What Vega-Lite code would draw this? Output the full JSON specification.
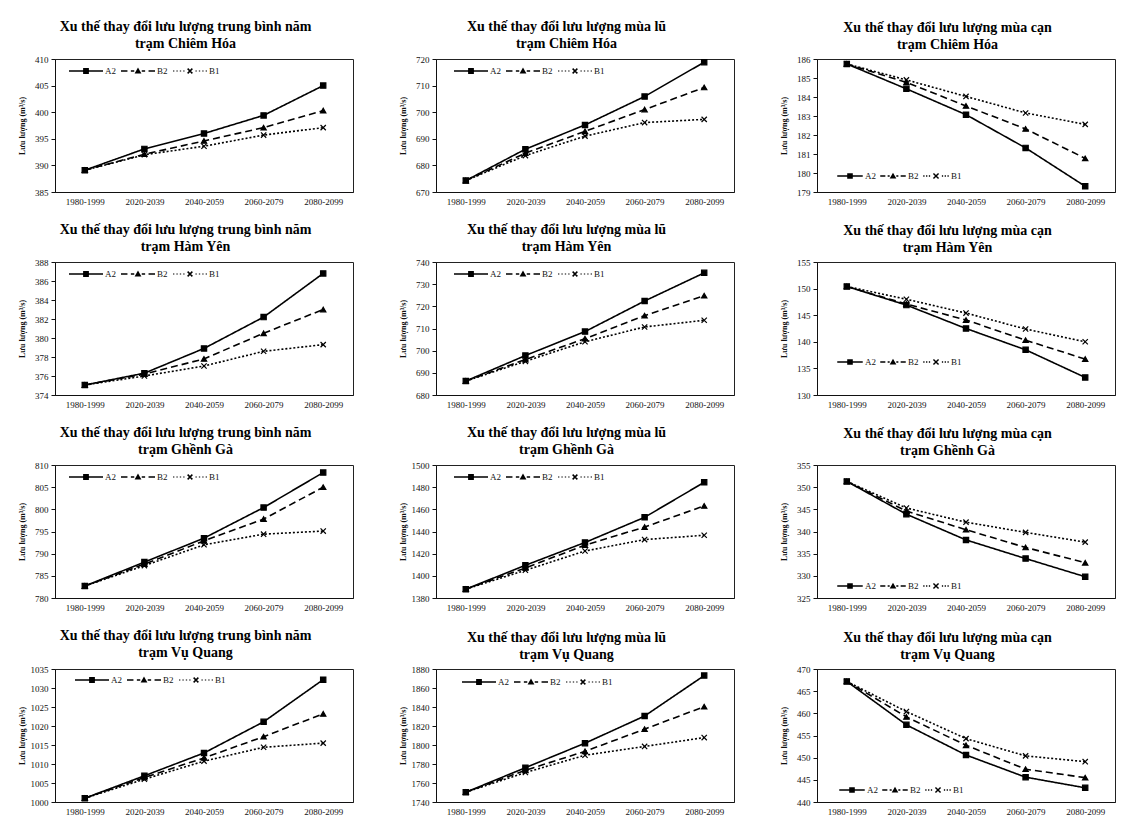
{
"$schema": "https://vega.github.io/schema/vega-lite/v6.json",
"padding": {"left": 17, "top": 19, "right": 4, "bottom": 2},
"background": "white",
"columns": 3,
"spacing": {"column": 44, "row": 15},
"datasets": {"d": [
{"s":"CH","t":"TB","p":"1980-1999","k":"A2","v":389.1},{"s":"CH","t":"TB","p":"2020-2039","k":"A2","v":393.1},{"s":"CH","t":"TB","p":"2040-2059","k":"A2","v":396.0},{"s":"CH","t":"TB","p":"2060-2079","k":"A2","v":399.4},{"s":"CH","t":"TB","p":"2080-2099","k":"A2","v":405.0},
{"s":"CH","t":"TB","p":"1980-1999","k":"B2","v":389.1},{"s":"CH","t":"TB","p":"2020-2039","k":"B2","v":392.1},{"s":"CH","t":"TB","p":"2040-2059","k":"B2","v":394.6},{"s":"CH","t":"TB","p":"2060-2079","k":"B2","v":397.1},{"s":"CH","t":"TB","p":"2080-2099","k":"B2","v":400.3},
{"s":"CH","t":"TB","p":"1980-1999","k":"B1","v":389.1},{"s":"CH","t":"TB","p":"2020-2039","k":"B1","v":392.0},{"s":"CH","t":"TB","p":"2040-2059","k":"B1","v":393.6},{"s":"CH","t":"TB","p":"2060-2079","k":"B1","v":395.7},{"s":"CH","t":"TB","p":"2080-2099","k":"B1","v":397.1},
{"s":"CH","t":"LU","p":"1980-1999","k":"A2","v":674.3},{"s":"CH","t":"LU","p":"2020-2039","k":"A2","v":686.1},{"s":"CH","t":"LU","p":"2040-2059","k":"A2","v":695.2},{"s":"CH","t":"LU","p":"2060-2079","k":"A2","v":705.9},{"s":"CH","t":"LU","p":"2080-2099","k":"A2","v":718.8},
{"s":"CH","t":"LU","p":"1980-1999","k":"B2","v":674.3},{"s":"CH","t":"LU","p":"2020-2039","k":"B2","v":684.6},{"s":"CH","t":"LU","p":"2040-2059","k":"B2","v":692.8},{"s":"CH","t":"LU","p":"2060-2079","k":"B2","v":701.0},{"s":"CH","t":"LU","p":"2080-2099","k":"B2","v":709.3},
{"s":"CH","t":"LU","p":"1980-1999","k":"B1","v":674.3},{"s":"CH","t":"LU","p":"2020-2039","k":"B1","v":683.7},{"s":"CH","t":"LU","p":"2040-2059","k":"B1","v":691.0},{"s":"CH","t":"LU","p":"2060-2079","k":"B1","v":696.1},{"s":"CH","t":"LU","p":"2080-2099","k":"B1","v":697.3},
{"s":"CH","t":"CAN","p":"1980-1999","k":"A2","v":185.74},{"s":"CH","t":"CAN","p":"2020-2039","k":"A2","v":184.43},{"s":"CH","t":"CAN","p":"2040-2059","k":"A2","v":183.07},{"s":"CH","t":"CAN","p":"2060-2079","k":"A2","v":181.32},{"s":"CH","t":"CAN","p":"2080-2099","k":"A2","v":179.3},
{"s":"CH","t":"CAN","p":"1980-1999","k":"B2","v":185.74},{"s":"CH","t":"CAN","p":"2020-2039","k":"B2","v":184.77},{"s":"CH","t":"CAN","p":"2040-2059","k":"B2","v":183.53},{"s":"CH","t":"CAN","p":"2060-2079","k":"B2","v":182.32},{"s":"CH","t":"CAN","p":"2080-2099","k":"B2","v":180.77},
{"s":"CH","t":"CAN","p":"1980-1999","k":"B1","v":185.74},{"s":"CH","t":"CAN","p":"2020-2039","k":"B1","v":184.9},{"s":"CH","t":"CAN","p":"2040-2059","k":"B1","v":184.03},{"s":"CH","t":"CAN","p":"2060-2079","k":"B1","v":183.16},{"s":"CH","t":"CAN","p":"2080-2099","k":"B1","v":182.56},
{"s":"HY","t":"TB","p":"1980-1999","k":"A2","v":375.05},{"s":"HY","t":"TB","p":"2020-2039","k":"A2","v":376.3},{"s":"HY","t":"TB","p":"2040-2059","k":"A2","v":378.9},{"s":"HY","t":"TB","p":"2060-2079","k":"A2","v":382.2},{"s":"HY","t":"TB","p":"2080-2099","k":"A2","v":386.8},
{"s":"HY","t":"TB","p":"1980-1999","k":"B2","v":375.05},{"s":"HY","t":"TB","p":"2020-2039","k":"B2","v":376.2},{"s":"HY","t":"TB","p":"2040-2059","k":"B2","v":377.8},{"s":"HY","t":"TB","p":"2060-2079","k":"B2","v":380.5},{"s":"HY","t":"TB","p":"2080-2099","k":"B2","v":383.0},
{"s":"HY","t":"TB","p":"1980-1999","k":"B1","v":375.05},{"s":"HY","t":"TB","p":"2020-2039","k":"B1","v":376.0},{"s":"HY","t":"TB","p":"2040-2059","k":"B1","v":377.05},{"s":"HY","t":"TB","p":"2060-2079","k":"B1","v":378.6},{"s":"HY","t":"TB","p":"2080-2099","k":"B1","v":379.3},
{"s":"HY","t":"LU","p":"1980-1999","k":"A2","v":686.3},{"s":"HY","t":"LU","p":"2020-2039","k":"A2","v":697.8},{"s":"HY","t":"LU","p":"2040-2059","k":"A2","v":708.6},{"s":"HY","t":"LU","p":"2060-2079","k":"A2","v":722.4},{"s":"HY","t":"LU","p":"2080-2099","k":"A2","v":735.1},
{"s":"HY","t":"LU","p":"1980-1999","k":"B2","v":686.3},{"s":"HY","t":"LU","p":"2020-2039","k":"B2","v":696.0},{"s":"HY","t":"LU","p":"2040-2059","k":"B2","v":705.4},{"s":"HY","t":"LU","p":"2060-2079","k":"B2","v":715.8},{"s":"HY","t":"LU","p":"2080-2099","k":"B2","v":724.8},
{"s":"HY","t":"LU","p":"1980-1999","k":"B1","v":686.3},{"s":"HY","t":"LU","p":"2020-2039","k":"B1","v":695.2},{"s":"HY","t":"LU","p":"2040-2059","k":"B1","v":704.0},{"s":"HY","t":"LU","p":"2060-2079","k":"B1","v":710.7},{"s":"HY","t":"LU","p":"2080-2099","k":"B1","v":713.7},
{"s":"HY","t":"CAN","p":"1980-1999","k":"A2","v":150.4},{"s":"HY","t":"CAN","p":"2020-2039","k":"A2","v":146.9},{"s":"HY","t":"CAN","p":"2040-2059","k":"A2","v":142.5},{"s":"HY","t":"CAN","p":"2060-2079","k":"A2","v":138.5},{"s":"HY","t":"CAN","p":"2080-2099","k":"A2","v":133.3},
{"s":"HY","t":"CAN","p":"1980-1999","k":"B2","v":150.4},{"s":"HY","t":"CAN","p":"2020-2039","k":"B2","v":147.1},{"s":"HY","t":"CAN","p":"2040-2059","k":"B2","v":144.1},{"s":"HY","t":"CAN","p":"2060-2079","k":"B2","v":140.3},{"s":"HY","t":"CAN","p":"2080-2099","k":"B2","v":136.75},
{"s":"HY","t":"CAN","p":"1980-1999","k":"B1","v":150.4},{"s":"HY","t":"CAN","p":"2020-2039","k":"B1","v":148.0},{"s":"HY","t":"CAN","p":"2040-2059","k":"B1","v":145.4},{"s":"HY","t":"CAN","p":"2060-2079","k":"B1","v":142.4},{"s":"HY","t":"CAN","p":"2080-2099","k":"B1","v":140.0},
{"s":"GG","t":"TB","p":"1980-1999","k":"A2","v":782.7},{"s":"GG","t":"TB","p":"2020-2039","k":"A2","v":788.1},{"s":"GG","t":"TB","p":"2040-2059","k":"A2","v":793.5},{"s":"GG","t":"TB","p":"2060-2079","k":"A2","v":800.4},{"s":"GG","t":"TB","p":"2080-2099","k":"A2","v":808.3},
{"s":"GG","t":"TB","p":"1980-1999","k":"B2","v":782.7},{"s":"GG","t":"TB","p":"2020-2039","k":"B2","v":787.65},{"s":"GG","t":"TB","p":"2040-2059","k":"B2","v":792.9},{"s":"GG","t":"TB","p":"2060-2079","k":"B2","v":797.8},{"s":"GG","t":"TB","p":"2080-2099","k":"B2","v":805.0},
{"s":"GG","t":"TB","p":"1980-1999","k":"B1","v":782.7},{"s":"GG","t":"TB","p":"2020-2039","k":"B1","v":787.3},{"s":"GG","t":"TB","p":"2040-2059","k":"B1","v":792.0},{"s":"GG","t":"TB","p":"2060-2079","k":"B1","v":794.4},{"s":"GG","t":"TB","p":"2080-2099","k":"B1","v":795.1},
{"s":"GG","t":"LU","p":"1980-1999","k":"A2","v":1388},{"s":"GG","t":"LU","p":"2020-2039","k":"A2","v":1409.5},{"s":"GG","t":"LU","p":"2040-2059","k":"A2","v":1430.1},{"s":"GG","t":"LU","p":"2060-2079","k":"A2","v":1452.8},{"s":"GG","t":"LU","p":"2080-2099","k":"A2","v":1484.4},
{"s":"GG","t":"LU","p":"1980-1999","k":"B2","v":1388},{"s":"GG","t":"LU","p":"2020-2039","k":"B2","v":1407.1},{"s":"GG","t":"LU","p":"2040-2059","k":"B2","v":1427.7},{"s":"GG","t":"LU","p":"2060-2079","k":"B2","v":1444.0},{"s":"GG","t":"LU","p":"2080-2099","k":"B2","v":1463.1},
{"s":"GG","t":"LU","p":"1980-1999","k":"B1","v":1388},{"s":"GG","t":"LU","p":"2020-2039","k":"B1","v":1405},{"s":"GG","t":"LU","p":"2040-2059","k":"B1","v":1422.4},{"s":"GG","t":"LU","p":"2060-2079","k":"B1","v":1432.7},{"s":"GG","t":"LU","p":"2080-2099","k":"B1","v":1436.6},
{"s":"GG","t":"CAN","p":"1980-1999","k":"A2","v":351.3},{"s":"GG","t":"CAN","p":"2020-2039","k":"A2","v":343.9},{"s":"GG","t":"CAN","p":"2040-2059","k":"A2","v":338.1},{"s":"GG","t":"CAN","p":"2060-2079","k":"A2","v":333.9},{"s":"GG","t":"CAN","p":"2080-2099","k":"A2","v":329.8},
{"s":"GG","t":"CAN","p":"1980-1999","k":"B2","v":351.3},{"s":"GG","t":"CAN","p":"2020-2039","k":"B2","v":344.6},{"s":"GG","t":"CAN","p":"2040-2059","k":"B2","v":340.4},{"s":"GG","t":"CAN","p":"2060-2079","k":"B2","v":336.4},{"s":"GG","t":"CAN","p":"2080-2099","k":"B2","v":332.95},
{"s":"GG","t":"CAN","p":"1980-1999","k":"B1","v":351.3},{"s":"GG","t":"CAN","p":"2020-2039","k":"B1","v":345.3},{"s":"GG","t":"CAN","p":"2040-2059","k":"B1","v":342.1},{"s":"GG","t":"CAN","p":"2060-2079","k":"B1","v":339.8},{"s":"GG","t":"CAN","p":"2080-2099","k":"B1","v":337.6},
{"s":"VQ","t":"TB","p":"1980-1999","k":"A2","v":1001.0},{"s":"VQ","t":"TB","p":"2020-2039","k":"A2","v":1006.9},{"s":"VQ","t":"TB","p":"2040-2059","k":"A2","v":1012.9},{"s":"VQ","t":"TB","p":"2060-2079","k":"A2","v":1021.1},{"s":"VQ","t":"TB","p":"2080-2099","k":"A2","v":1032.2},
{"s":"VQ","t":"TB","p":"1980-1999","k":"B2","v":1001.0},{"s":"VQ","t":"TB","p":"2020-2039","k":"B2","v":1006.45},{"s":"VQ","t":"TB","p":"2040-2059","k":"B2","v":1011.6},{"s":"VQ","t":"TB","p":"2060-2079","k":"B2","v":1017.2},{"s":"VQ","t":"TB","p":"2080-2099","k":"B2","v":1023.2},
{"s":"VQ","t":"TB","p":"1980-1999","k":"B1","v":1001.0},{"s":"VQ","t":"TB","p":"2020-2039","k":"B1","v":1006.0},{"s":"VQ","t":"TB","p":"2040-2059","k":"B1","v":1010.75},{"s":"VQ","t":"TB","p":"2060-2079","k":"B1","v":1014.4},{"s":"VQ","t":"TB","p":"2080-2099","k":"B1","v":1015.5},
{"s":"VQ","t":"LU","p":"1980-1999","k":"A2","v":1750.3},{"s":"VQ","t":"LU","p":"2020-2039","k":"A2","v":1776.1},{"s":"VQ","t":"LU","p":"2040-2059","k":"A2","v":1801.9},{"s":"VQ","t":"LU","p":"2060-2079","k":"A2","v":1830.5},{"s":"VQ","t":"LU","p":"2080-2099","k":"A2","v":1873.1},
{"s":"VQ","t":"LU","p":"1980-1999","k":"B2","v":1750.3},{"s":"VQ","t":"LU","p":"2020-2039","k":"B2","v":1773.4},{"s":"VQ","t":"LU","p":"2040-2059","k":"B2","v":1793.3},{"s":"VQ","t":"LU","p":"2060-2079","k":"B2","v":1816.7},{"s":"VQ","t":"LU","p":"2080-2099","k":"B2","v":1840.4},
{"s":"VQ","t":"LU","p":"1980-1999","k":"B1","v":1750.3},{"s":"VQ","t":"LU","p":"2020-2039","k":"B1","v":1771},{"s":"VQ","t":"LU","p":"2040-2059","k":"B1","v":1789.2},{"s":"VQ","t":"LU","p":"2060-2079","k":"B1","v":1798.5},{"s":"VQ","t":"LU","p":"2080-2099","k":"B1","v":1807.8},
{"s":"VQ","t":"CAN","p":"1980-1999","k":"A2","v":467.2},{"s":"VQ","t":"CAN","p":"2020-2039","k":"A2","v":457.4},{"s":"VQ","t":"CAN","p":"2040-2059","k":"A2","v":450.6},{"s":"VQ","t":"CAN","p":"2060-2079","k":"A2","v":445.6},{"s":"VQ","t":"CAN","p":"2080-2099","k":"A2","v":443.2},
{"s":"VQ","t":"CAN","p":"1980-1999","k":"B2","v":467.2},{"s":"VQ","t":"CAN","p":"2020-2039","k":"B2","v":459.2},{"s":"VQ","t":"CAN","p":"2040-2059","k":"B2","v":452.8},{"s":"VQ","t":"CAN","p":"2060-2079","k":"B2","v":447.4},{"s":"VQ","t":"CAN","p":"2080-2099","k":"B2","v":445.5},
{"s":"VQ","t":"CAN","p":"1980-1999","k":"B1","v":467.2},{"s":"VQ","t":"CAN","p":"2020-2039","k":"B1","v":460.4},{"s":"VQ","t":"CAN","p":"2040-2059","k":"B1","v":454.3},{"s":"VQ","t":"CAN","p":"2060-2079","k":"B1","v":450.4},{"s":"VQ","t":"CAN","p":"2080-2099","k":"B1","v":449.1}
]},
"data": {"name": "d"},
"concat": [
{"title": {"text": ["Xu thế thay đổi lưu lượng trung bình năm", "trạm Chiêm Hóa"]}, "width": 298, "height": 133,
 "transform": [{"filter": "datum.s=='CH' && datum.t=='TB'"}],
 "encoding": {"x": {"field": "p", "type": "ordinal", "title": null}, "y": {"field": "v", "type": "quantitative", "title": "Lưu lượng (m³/s)", "scale": {"domain": [385, 410], "zero": false}, "axis": {"values": [385, 390, 395, 400, 405, 410]}}},
 "layer": [
  {"mark": {"type": "line", "color": "black", "strokeWidth": 1.6}, "encoding": {"strokeDash": {"field": "k", "type": "nominal", "scale": {"domain": ["A2", "B2", "B1"], "range": [[1, 0], [7, 4], [2, 2]]}, "legend": null}}},
  {"mark": {"type": "point", "filled": true, "color": "black", "stroke": "black", "strokeWidth": 1.2, "size": 28, "opacity": 1}, "encoding": {"shape": {"field": "k", "type": "nominal", "scale": {"domain": ["A2", "B2", "B1"], "range": ["square", "triangle-up", "M-1,-1L1,1M-1,1L1,-1"]}, "legend": null}}},
  {"transform": [{"filter": "datum.v < 0"}], "mark": {"type": "point", "filled": true, "color": "black", "opacity": 1}, "encoding": {"shape": {"field": "k", "type": "nominal", "scale": {"domain": ["A2", "B2", "B1"], "range": ["M-1,-0.045H1V0.045H-1Z M-0.17,-0.17H0.17V0.17H-0.17Z", "M-1,-0.045H-0.62V0.045H-1Z M-0.42,-0.045H-0.22V0.045H-0.42Z M0.22,-0.045H0.42V0.045H0.22Z M0.62,-0.045H1V0.045H0.62Z M0,-0.2L0.2,0.15H-0.2Z", "M-1,-0.035H-0.92V0.035H-1Z M-0.8,-0.035H-0.72V0.035H-0.8Z M-0.6,-0.035H-0.52V0.035H-0.6Z M-0.4,-0.035H-0.32V0.035H-0.4Z M0.32,-0.035H0.4V0.035H0.32Z M0.52,-0.035H0.6V0.035H0.52Z M0.72,-0.035H0.8V0.035H0.72Z M0.92,-0.035H1V0.035H0.92Z M-0.17,-0.11L-0.11,-0.17L0.17,0.11L0.11,0.17Z M-0.17,0.11L0.11,-0.17L0.17,-0.11L-0.11,0.17Z"]}, "legend": {"legendX": 14, "legendY": -5}}}}
 ],
 "resolve": {"scale": {"shape": "independent"}}},
{"title": {"text": ["Xu thế thay đổi lưu lượng mùa lũ", "trạm Chiêm Hóa"]}, "width": 298, "height": 133,
 "transform": [{"filter": "datum.s=='CH' && datum.t=='LU'"}],
 "encoding": {"x": {"field": "p", "type": "ordinal", "title": null}, "y": {"field": "v", "type": "quantitative", "title": "Lưu lượng (m³/s)", "scale": {"domain": [670, 720], "zero": false}, "axis": {"values": [670, 680, 690, 700, 710, 720]}}},
 "layer": [
  {"mark": {"type": "line", "color": "black", "strokeWidth": 1.6}, "encoding": {"strokeDash": {"field": "k", "type": "nominal", "scale": {"domain": ["A2", "B2", "B1"], "range": [[1, 0], [7, 4], [2, 2]]}, "legend": null}}},
  {"mark": {"type": "point", "filled": true, "color": "black", "stroke": "black", "strokeWidth": 1.2, "size": 28, "opacity": 1}, "encoding": {"shape": {"field": "k", "type": "nominal", "scale": {"domain": ["A2", "B2", "B1"], "range": ["square", "triangle-up", "M-1,-1L1,1M-1,1L1,-1"]}, "legend": null}}},
  {"transform": [{"filter": "datum.v < 0"}], "mark": {"type": "point", "filled": true, "color": "black", "opacity": 1}, "encoding": {"shape": {"field": "k", "type": "nominal", "scale": {"domain": ["A2", "B2", "B1"], "range": ["M-1,-0.045H1V0.045H-1Z M-0.17,-0.17H0.17V0.17H-0.17Z", "M-1,-0.045H-0.62V0.045H-1Z M-0.42,-0.045H-0.22V0.045H-0.42Z M0.22,-0.045H0.42V0.045H0.22Z M0.62,-0.045H1V0.045H0.62Z M0,-0.2L0.2,0.15H-0.2Z", "M-1,-0.035H-0.92V0.035H-1Z M-0.8,-0.035H-0.72V0.035H-0.8Z M-0.6,-0.035H-0.52V0.035H-0.6Z M-0.4,-0.035H-0.32V0.035H-0.4Z M0.32,-0.035H0.4V0.035H0.32Z M0.52,-0.035H0.6V0.035H0.52Z M0.72,-0.035H0.8V0.035H0.72Z M0.92,-0.035H1V0.035H0.92Z M-0.17,-0.11L-0.11,-0.17L0.17,0.11L0.11,0.17Z M-0.17,0.11L0.11,-0.17L0.17,-0.11L-0.11,0.17Z"]}, "legend": {"legendX": 18, "legendY": -5}}}}
 ],
 "resolve": {"scale": {"shape": "independent"}}},
{"title": {"text": ["Xu thế thay đổi lưu lượng mùa cạn", "trạm Chiêm Hóa"]}, "width": 298, "height": 133,
 "transform": [{"filter": "datum.s=='CH' && datum.t=='CAN'"}],
 "encoding": {"x": {"field": "p", "type": "ordinal", "title": null}, "y": {"field": "v", "type": "quantitative", "title": "Lưu lượng (m³/s)", "scale": {"domain": [179, 186], "zero": false}, "axis": {"values": [179, 180, 181, 182, 183, 184, 185, 186]}}},
 "layer": [
  {"mark": {"type": "line", "color": "black", "strokeWidth": 1.6}, "encoding": {"strokeDash": {"field": "k", "type": "nominal", "scale": {"domain": ["A2", "B2", "B1"], "range": [[1, 0], [7, 4], [2, 2]]}, "legend": null}}},
  {"mark": {"type": "point", "filled": true, "color": "black", "stroke": "black", "strokeWidth": 1.2, "size": 28, "opacity": 1}, "encoding": {"shape": {"field": "k", "type": "nominal", "scale": {"domain": ["A2", "B2", "B1"], "range": ["square", "triangle-up", "M-1,-1L1,1M-1,1L1,-1"]}, "legend": null}}},
  {"transform": [{"filter": "datum.v < 0"}], "mark": {"type": "point", "filled": true, "color": "black", "opacity": 1}, "encoding": {"shape": {"field": "k", "type": "nominal", "scale": {"domain": ["A2", "B2", "B1"], "range": ["M-1,-0.06H1V0.06H-1Z M-0.22,-0.22H0.22V0.22H-0.22Z", "M-1,-0.06H-0.6V0.06H-1Z M-0.42,-0.06H-0.26V0.06H-0.42Z M0.26,-0.06H0.42V0.06H0.26Z M0.6,-0.06H1V0.06H0.6Z M0,-0.26L0.26,0.2H-0.26Z", "M-1,-0.05H-0.9V0.05H-1Z M-0.78,-0.05H-0.68V0.05H-0.78Z M-0.56,-0.05H-0.46V0.05H-0.56Z M0.46,-0.05H0.56V0.05H0.46Z M0.68,-0.05H0.78V0.05H0.68Z M0.9,-0.05H1V0.05H0.9Z M-0.24,-0.16L-0.16,-0.24L0.24,0.16L0.16,0.24Z M-0.24,0.16L0.16,-0.24L0.24,-0.16L-0.16,0.24Z"]}, "legend": {"legendX": 20, "legendY": 104, "symbolSize": 650, "columnPadding": 4}}}}
 ],
 "resolve": {"scale": {"shape": "independent"}}},
{"title": {"text": ["Xu thế thay đổi lưu lượng trung bình năm", "trạm Hàm Yên"]}, "width": 298, "height": 133,
 "transform": [{"filter": "datum.s=='HY' && datum.t=='TB'"}],
 "encoding": {"x": {"field": "p", "type": "ordinal", "title": null}, "y": {"field": "v", "type": "quantitative", "title": "Lưu lượng (m³/s)", "scale": {"domain": [374, 388], "zero": false}, "axis": {"values": [374, 376, 378, 380, 382, 384, 386, 388]}}},
 "layer": [
  {"mark": {"type": "line", "color": "black", "strokeWidth": 1.6}, "encoding": {"strokeDash": {"field": "k", "type": "nominal", "scale": {"domain": ["A2", "B2", "B1"], "range": [[1, 0], [7, 4], [2, 2]]}, "legend": null}}},
  {"mark": {"type": "point", "filled": true, "color": "black", "stroke": "black", "strokeWidth": 1.2, "size": 28, "opacity": 1}, "encoding": {"shape": {"field": "k", "type": "nominal", "scale": {"domain": ["A2", "B2", "B1"], "range": ["square", "triangle-up", "M-1,-1L1,1M-1,1L1,-1"]}, "legend": null}}},
  {"transform": [{"filter": "datum.v < 0"}], "mark": {"type": "point", "filled": true, "color": "black", "opacity": 1}, "encoding": {"shape": {"field": "k", "type": "nominal", "scale": {"domain": ["A2", "B2", "B1"], "range": ["M-1,-0.045H1V0.045H-1Z M-0.17,-0.17H0.17V0.17H-0.17Z", "M-1,-0.045H-0.62V0.045H-1Z M-0.42,-0.045H-0.22V0.045H-0.42Z M0.22,-0.045H0.42V0.045H0.22Z M0.62,-0.045H1V0.045H0.62Z M0,-0.2L0.2,0.15H-0.2Z", "M-1,-0.035H-0.92V0.035H-1Z M-0.8,-0.035H-0.72V0.035H-0.8Z M-0.6,-0.035H-0.52V0.035H-0.6Z M-0.4,-0.035H-0.32V0.035H-0.4Z M0.32,-0.035H0.4V0.035H0.32Z M0.52,-0.035H0.6V0.035H0.52Z M0.72,-0.035H0.8V0.035H0.72Z M0.92,-0.035H1V0.035H0.92Z M-0.17,-0.11L-0.11,-0.17L0.17,0.11L0.11,0.17Z M-0.17,0.11L0.11,-0.17L0.17,-0.11L-0.11,0.17Z"]}, "legend": {"legendX": 14, "legendY": -5}}}}
 ],
 "resolve": {"scale": {"shape": "independent"}}},
{"title": {"text": ["Xu thế thay đổi lưu lượng mùa lũ", "trạm Hàm Yên"]}, "width": 298, "height": 133,
 "transform": [{"filter": "datum.s=='HY' && datum.t=='LU'"}],
 "encoding": {"x": {"field": "p", "type": "ordinal", "title": null}, "y": {"field": "v", "type": "quantitative", "title": "Lưu lượng (m³/s)", "scale": {"domain": [680, 740], "zero": false}, "axis": {"values": [680, 690, 700, 710, 720, 730, 740]}}},
 "layer": [
  {"mark": {"type": "line", "color": "black", "strokeWidth": 1.6}, "encoding": {"strokeDash": {"field": "k", "type": "nominal", "scale": {"domain": ["A2", "B2", "B1"], "range": [[1, 0], [7, 4], [2, 2]]}, "legend": null}}},
  {"mark": {"type": "point", "filled": true, "color": "black", "stroke": "black", "strokeWidth": 1.2, "size": 28, "opacity": 1}, "encoding": {"shape": {"field": "k", "type": "nominal", "scale": {"domain": ["A2", "B2", "B1"], "range": ["square", "triangle-up", "M-1,-1L1,1M-1,1L1,-1"]}, "legend": null}}},
  {"transform": [{"filter": "datum.v < 0"}], "mark": {"type": "point", "filled": true, "color": "black", "opacity": 1}, "encoding": {"shape": {"field": "k", "type": "nominal", "scale": {"domain": ["A2", "B2", "B1"], "range": ["M-1,-0.045H1V0.045H-1Z M-0.17,-0.17H0.17V0.17H-0.17Z", "M-1,-0.045H-0.62V0.045H-1Z M-0.42,-0.045H-0.22V0.045H-0.42Z M0.22,-0.045H0.42V0.045H0.22Z M0.62,-0.045H1V0.045H0.62Z M0,-0.2L0.2,0.15H-0.2Z", "M-1,-0.035H-0.92V0.035H-1Z M-0.8,-0.035H-0.72V0.035H-0.8Z M-0.6,-0.035H-0.52V0.035H-0.6Z M-0.4,-0.035H-0.32V0.035H-0.4Z M0.32,-0.035H0.4V0.035H0.32Z M0.52,-0.035H0.6V0.035H0.52Z M0.72,-0.035H0.8V0.035H0.72Z M0.92,-0.035H1V0.035H0.92Z M-0.17,-0.11L-0.11,-0.17L0.17,0.11L0.11,0.17Z M-0.17,0.11L0.11,-0.17L0.17,-0.11L-0.11,0.17Z"]}, "legend": {"legendX": 18, "legendY": -5}}}}
 ],
 "resolve": {"scale": {"shape": "independent"}}},
{"title": {"text": ["Xu thế thay đổi lưu lượng mùa cạn", "trạm Hàm Yên"]}, "width": 298, "height": 133,
 "transform": [{"filter": "datum.s=='HY' && datum.t=='CAN'"}],
 "encoding": {"x": {"field": "p", "type": "ordinal", "title": null}, "y": {"field": "v", "type": "quantitative", "title": "Lưu lượng (m³/s)", "scale": {"domain": [130, 155], "zero": false}, "axis": {"values": [130, 135, 140, 145, 150, 155]}}},
 "layer": [
  {"mark": {"type": "line", "color": "black", "strokeWidth": 1.6}, "encoding": {"strokeDash": {"field": "k", "type": "nominal", "scale": {"domain": ["A2", "B2", "B1"], "range": [[1, 0], [7, 4], [2, 2]]}, "legend": null}}},
  {"mark": {"type": "point", "filled": true, "color": "black", "stroke": "black", "strokeWidth": 1.2, "size": 28, "opacity": 1}, "encoding": {"shape": {"field": "k", "type": "nominal", "scale": {"domain": ["A2", "B2", "B1"], "range": ["square", "triangle-up", "M-1,-1L1,1M-1,1L1,-1"]}, "legend": null}}},
  {"transform": [{"filter": "datum.v < 0"}], "mark": {"type": "point", "filled": true, "color": "black", "opacity": 1}, "encoding": {"shape": {"field": "k", "type": "nominal", "scale": {"domain": ["A2", "B2", "B1"], "range": ["M-1,-0.06H1V0.06H-1Z M-0.22,-0.22H0.22V0.22H-0.22Z", "M-1,-0.06H-0.6V0.06H-1Z M-0.42,-0.06H-0.26V0.06H-0.42Z M0.26,-0.06H0.42V0.06H0.26Z M0.6,-0.06H1V0.06H0.6Z M0,-0.26L0.26,0.2H-0.26Z", "M-1,-0.05H-0.9V0.05H-1Z M-0.78,-0.05H-0.68V0.05H-0.78Z M-0.56,-0.05H-0.46V0.05H-0.56Z M0.46,-0.05H0.56V0.05H0.46Z M0.68,-0.05H0.78V0.05H0.68Z M0.9,-0.05H1V0.05H0.9Z M-0.24,-0.16L-0.16,-0.24L0.24,0.16L0.16,0.24Z M-0.24,0.16L0.16,-0.24L0.24,-0.16L-0.16,0.24Z"]}, "legend": {"legendX": 20, "legendY": 87, "symbolSize": 650, "columnPadding": 4}}}}
 ],
 "resolve": {"scale": {"shape": "independent"}}},
{"title": {"text": ["Xu thế thay đổi lưu lượng trung bình năm", "trạm Ghềnh Gà"]}, "width": 298, "height": 133,
 "transform": [{"filter": "datum.s=='GG' && datum.t=='TB'"}],
 "encoding": {"x": {"field": "p", "type": "ordinal", "title": null}, "y": {"field": "v", "type": "quantitative", "title": "Lưu lượng (m³/s)", "scale": {"domain": [780, 810], "zero": false}, "axis": {"values": [780, 785, 790, 795, 800, 805, 810]}}},
 "layer": [
  {"mark": {"type": "line", "color": "black", "strokeWidth": 1.6}, "encoding": {"strokeDash": {"field": "k", "type": "nominal", "scale": {"domain": ["A2", "B2", "B1"], "range": [[1, 0], [7, 4], [2, 2]]}, "legend": null}}},
  {"mark": {"type": "point", "filled": true, "color": "black", "stroke": "black", "strokeWidth": 1.2, "size": 28, "opacity": 1}, "encoding": {"shape": {"field": "k", "type": "nominal", "scale": {"domain": ["A2", "B2", "B1"], "range": ["square", "triangle-up", "M-1,-1L1,1M-1,1L1,-1"]}, "legend": null}}},
  {"transform": [{"filter": "datum.v < 0"}], "mark": {"type": "point", "filled": true, "color": "black", "opacity": 1}, "encoding": {"shape": {"field": "k", "type": "nominal", "scale": {"domain": ["A2", "B2", "B1"], "range": ["M-1,-0.045H1V0.045H-1Z M-0.17,-0.17H0.17V0.17H-0.17Z", "M-1,-0.045H-0.62V0.045H-1Z M-0.42,-0.045H-0.22V0.045H-0.42Z M0.22,-0.045H0.42V0.045H0.22Z M0.62,-0.045H1V0.045H0.62Z M0,-0.2L0.2,0.15H-0.2Z", "M-1,-0.035H-0.92V0.035H-1Z M-0.8,-0.035H-0.72V0.035H-0.8Z M-0.6,-0.035H-0.52V0.035H-0.6Z M-0.4,-0.035H-0.32V0.035H-0.4Z M0.32,-0.035H0.4V0.035H0.32Z M0.52,-0.035H0.6V0.035H0.52Z M0.72,-0.035H0.8V0.035H0.72Z M0.92,-0.035H1V0.035H0.92Z M-0.17,-0.11L-0.11,-0.17L0.17,0.11L0.11,0.17Z M-0.17,0.11L0.11,-0.17L0.17,-0.11L-0.11,0.17Z"]}, "legend": {"legendX": 14, "legendY": -5}}}}
 ],
 "resolve": {"scale": {"shape": "independent"}}},
{"title": {"text": ["Xu thế thay đổi lưu lượng mùa lũ", "trạm Ghềnh Gà"]}, "width": 298, "height": 133,
 "transform": [{"filter": "datum.s=='GG' && datum.t=='LU'"}],
 "encoding": {"x": {"field": "p", "type": "ordinal", "title": null}, "y": {"field": "v", "type": "quantitative", "title": "Lưu lượng (m³/s)", "scale": {"domain": [1380, 1500], "zero": false}, "axis": {"values": [1380, 1400, 1420, 1440, 1460, 1480, 1500]}}},
 "layer": [
  {"mark": {"type": "line", "color": "black", "strokeWidth": 1.6}, "encoding": {"strokeDash": {"field": "k", "type": "nominal", "scale": {"domain": ["A2", "B2", "B1"], "range": [[1, 0], [7, 4], [2, 2]]}, "legend": null}}},
  {"mark": {"type": "point", "filled": true, "color": "black", "stroke": "black", "strokeWidth": 1.2, "size": 28, "opacity": 1}, "encoding": {"shape": {"field": "k", "type": "nominal", "scale": {"domain": ["A2", "B2", "B1"], "range": ["square", "triangle-up", "M-1,-1L1,1M-1,1L1,-1"]}, "legend": null}}},
  {"transform": [{"filter": "datum.v < 0"}], "mark": {"type": "point", "filled": true, "color": "black", "opacity": 1}, "encoding": {"shape": {"field": "k", "type": "nominal", "scale": {"domain": ["A2", "B2", "B1"], "range": ["M-1,-0.045H1V0.045H-1Z M-0.17,-0.17H0.17V0.17H-0.17Z", "M-1,-0.045H-0.62V0.045H-1Z M-0.42,-0.045H-0.22V0.045H-0.42Z M0.22,-0.045H0.42V0.045H0.22Z M0.62,-0.045H1V0.045H0.62Z M0,-0.2L0.2,0.15H-0.2Z", "M-1,-0.035H-0.92V0.035H-1Z M-0.8,-0.035H-0.72V0.035H-0.8Z M-0.6,-0.035H-0.52V0.035H-0.6Z M-0.4,-0.035H-0.32V0.035H-0.4Z M0.32,-0.035H0.4V0.035H0.32Z M0.52,-0.035H0.6V0.035H0.52Z M0.72,-0.035H0.8V0.035H0.72Z M0.92,-0.035H1V0.035H0.92Z M-0.17,-0.11L-0.11,-0.17L0.17,0.11L0.11,0.17Z M-0.17,0.11L0.11,-0.17L0.17,-0.11L-0.11,0.17Z"]}, "legend": {"legendX": 18, "legendY": -5}}}}
 ],
 "resolve": {"scale": {"shape": "independent"}}},
{"title": {"text": ["Xu thế thay đổi lưu lượng mùa cạn", "trạm Ghềnh Gà"]}, "width": 298, "height": 133,
 "transform": [{"filter": "datum.s=='GG' && datum.t=='CAN'"}],
 "encoding": {"x": {"field": "p", "type": "ordinal", "title": null}, "y": {"field": "v", "type": "quantitative", "title": "Lưu lượng (m³/s)", "scale": {"domain": [325, 355], "zero": false}, "axis": {"values": [325, 330, 335, 340, 345, 350, 355]}}},
 "layer": [
  {"mark": {"type": "line", "color": "black", "strokeWidth": 1.6}, "encoding": {"strokeDash": {"field": "k", "type": "nominal", "scale": {"domain": ["A2", "B2", "B1"], "range": [[1, 0], [7, 4], [2, 2]]}, "legend": null}}},
  {"mark": {"type": "point", "filled": true, "color": "black", "stroke": "black", "strokeWidth": 1.2, "size": 28, "opacity": 1}, "encoding": {"shape": {"field": "k", "type": "nominal", "scale": {"domain": ["A2", "B2", "B1"], "range": ["square", "triangle-up", "M-1,-1L1,1M-1,1L1,-1"]}, "legend": null}}},
  {"transform": [{"filter": "datum.v < 0"}], "mark": {"type": "point", "filled": true, "color": "black", "opacity": 1}, "encoding": {"shape": {"field": "k", "type": "nominal", "scale": {"domain": ["A2", "B2", "B1"], "range": ["M-1,-0.06H1V0.06H-1Z M-0.22,-0.22H0.22V0.22H-0.22Z", "M-1,-0.06H-0.6V0.06H-1Z M-0.42,-0.06H-0.26V0.06H-0.42Z M0.26,-0.06H0.42V0.06H0.26Z M0.6,-0.06H1V0.06H0.6Z M0,-0.26L0.26,0.2H-0.26Z", "M-1,-0.05H-0.9V0.05H-1Z M-0.78,-0.05H-0.68V0.05H-0.78Z M-0.56,-0.05H-0.46V0.05H-0.56Z M0.46,-0.05H0.56V0.05H0.46Z M0.68,-0.05H0.78V0.05H0.68Z M0.9,-0.05H1V0.05H0.9Z M-0.24,-0.16L-0.16,-0.24L0.24,0.16L0.16,0.24Z M-0.24,0.16L0.16,-0.24L0.24,-0.16L-0.16,0.24Z"]}, "legend": {"legendX": 20, "legendY": 108, "symbolSize": 650, "columnPadding": 4}}}}
 ],
 "resolve": {"scale": {"shape": "independent"}}},
{"title": {"text": ["Xu thế thay đổi lưu lượng trung bình năm", "trạm Vụ Quang"]}, "width": 298, "height": 133,
 "transform": [{"filter": "datum.s=='VQ' && datum.t=='TB'"}],
 "encoding": {"x": {"field": "p", "type": "ordinal", "title": null}, "y": {"field": "v", "type": "quantitative", "title": "Lưu lượng (m³/s)", "scale": {"domain": [1000, 1035], "zero": false}, "axis": {"values": [1000, 1005, 1010, 1015, 1020, 1025, 1030, 1035]}}},
 "layer": [
  {"mark": {"type": "line", "color": "black", "strokeWidth": 1.6}, "encoding": {"strokeDash": {"field": "k", "type": "nominal", "scale": {"domain": ["A2", "B2", "B1"], "range": [[1, 0], [7, 4], [2, 2]]}, "legend": null}}},
  {"mark": {"type": "point", "filled": true, "color": "black", "stroke": "black", "strokeWidth": 1.2, "size": 28, "opacity": 1}, "encoding": {"shape": {"field": "k", "type": "nominal", "scale": {"domain": ["A2", "B2", "B1"], "range": ["square", "triangle-up", "M-1,-1L1,1M-1,1L1,-1"]}, "legend": null}}},
  {"transform": [{"filter": "datum.v < 0"}], "mark": {"type": "point", "filled": true, "color": "black", "opacity": 1}, "encoding": {"shape": {"field": "k", "type": "nominal", "scale": {"domain": ["A2", "B2", "B1"], "range": ["M-1,-0.045H1V0.045H-1Z M-0.17,-0.17H0.17V0.17H-0.17Z", "M-1,-0.045H-0.62V0.045H-1Z M-0.42,-0.045H-0.22V0.045H-0.42Z M0.22,-0.045H0.42V0.045H0.22Z M0.62,-0.045H1V0.045H0.62Z M0,-0.2L0.2,0.15H-0.2Z", "M-1,-0.035H-0.92V0.035H-1Z M-0.8,-0.035H-0.72V0.035H-0.8Z M-0.6,-0.035H-0.52V0.035H-0.6Z M-0.4,-0.035H-0.32V0.035H-0.4Z M0.32,-0.035H0.4V0.035H0.32Z M0.52,-0.035H0.6V0.035H0.52Z M0.72,-0.035H0.8V0.035H0.72Z M0.92,-0.035H1V0.035H0.92Z M-0.17,-0.11L-0.11,-0.17L0.17,0.11L0.11,0.17Z M-0.17,0.11L0.11,-0.17L0.17,-0.11L-0.11,0.17Z"]}, "legend": {"legendX": 20, "legendY": -6}}}}
 ],
 "resolve": {"scale": {"shape": "independent"}}},
{"title": {"text": ["Xu thế thay đổi lưu lượng mùa lũ", "trạm Vụ Quang"]}, "width": 298, "height": 133,
 "transform": [{"filter": "datum.s=='VQ' && datum.t=='LU'"}],
 "encoding": {"x": {"field": "p", "type": "ordinal", "title": null}, "y": {"field": "v", "type": "quantitative", "title": "Lưu lượng (m³/s)", "scale": {"domain": [1740, 1880], "zero": false}, "axis": {"values": [1740, 1760, 1780, 1800, 1820, 1840, 1860, 1880]}}},
 "layer": [
  {"mark": {"type": "line", "color": "black", "strokeWidth": 1.6}, "encoding": {"strokeDash": {"field": "k", "type": "nominal", "scale": {"domain": ["A2", "B2", "B1"], "range": [[1, 0], [7, 4], [2, 2]]}, "legend": null}}},
  {"mark": {"type": "point", "filled": true, "color": "black", "stroke": "black", "strokeWidth": 1.2, "size": 28, "opacity": 1}, "encoding": {"shape": {"field": "k", "type": "nominal", "scale": {"domain": ["A2", "B2", "B1"], "range": ["square", "triangle-up", "M-1,-1L1,1M-1,1L1,-1"]}, "legend": null}}},
  {"transform": [{"filter": "datum.v < 0"}], "mark": {"type": "point", "filled": true, "color": "black", "opacity": 1}, "encoding": {"shape": {"field": "k", "type": "nominal", "scale": {"domain": ["A2", "B2", "B1"], "range": ["M-1,-0.045H1V0.045H-1Z M-0.17,-0.17H0.17V0.17H-0.17Z", "M-1,-0.045H-0.62V0.045H-1Z M-0.42,-0.045H-0.22V0.045H-0.42Z M0.22,-0.045H0.42V0.045H0.22Z M0.62,-0.045H1V0.045H0.62Z M0,-0.2L0.2,0.15H-0.2Z", "M-1,-0.035H-0.92V0.035H-1Z M-0.8,-0.035H-0.72V0.035H-0.8Z M-0.6,-0.035H-0.52V0.035H-0.6Z M-0.4,-0.035H-0.32V0.035H-0.4Z M0.32,-0.035H0.4V0.035H0.32Z M0.52,-0.035H0.6V0.035H0.52Z M0.72,-0.035H0.8V0.035H0.72Z M0.92,-0.035H1V0.035H0.92Z M-0.17,-0.11L-0.11,-0.17L0.17,0.11L0.11,0.17Z M-0.17,0.11L0.11,-0.17L0.17,-0.11L-0.11,0.17Z"]}, "legend": {"legendX": 26, "legendY": -4}}}}
 ],
 "resolve": {"scale": {"shape": "independent"}}},
{"title": {"text": ["Xu thế thay đổi lưu lượng mùa cạn", "trạm Vụ Quang"]}, "width": 298, "height": 133,
 "transform": [{"filter": "datum.s=='VQ' && datum.t=='CAN'"}],
 "encoding": {"x": {"field": "p", "type": "ordinal", "title": null}, "y": {"field": "v", "type": "quantitative", "title": "Lưu lượng (m³/s)", "scale": {"domain": [440, 470], "zero": false}, "axis": {"values": [440, 445, 450, 455, 460, 465, 470]}}},
 "layer": [
  {"mark": {"type": "line", "color": "black", "strokeWidth": 1.6}, "encoding": {"strokeDash": {"field": "k", "type": "nominal", "scale": {"domain": ["A2", "B2", "B1"], "range": [[1, 0], [7, 4], [2, 2]]}, "legend": null}}},
  {"mark": {"type": "point", "filled": true, "color": "black", "stroke": "black", "strokeWidth": 1.2, "size": 28, "opacity": 1}, "encoding": {"shape": {"field": "k", "type": "nominal", "scale": {"domain": ["A2", "B2", "B1"], "range": ["square", "triangle-up", "M-1,-1L1,1M-1,1L1,-1"]}, "legend": null}}},
  {"transform": [{"filter": "datum.v < 0"}], "mark": {"type": "point", "filled": true, "color": "black", "opacity": 1}, "encoding": {"shape": {"field": "k", "type": "nominal", "scale": {"domain": ["A2", "B2", "B1"], "range": ["M-1,-0.06H1V0.06H-1Z M-0.22,-0.22H0.22V0.22H-0.22Z", "M-1,-0.06H-0.6V0.06H-1Z M-0.42,-0.06H-0.26V0.06H-0.42Z M0.26,-0.06H0.42V0.06H0.26Z M0.6,-0.06H1V0.06H0.6Z M0,-0.26L0.26,0.2H-0.26Z", "M-1,-0.05H-0.9V0.05H-1Z M-0.78,-0.05H-0.68V0.05H-0.78Z M-0.56,-0.05H-0.46V0.05H-0.56Z M0.46,-0.05H0.56V0.05H0.46Z M0.68,-0.05H0.78V0.05H0.68Z M0.9,-0.05H1V0.05H0.9Z M-0.24,-0.16L-0.16,-0.24L0.24,0.16L0.16,0.24Z M-0.24,0.16L0.16,-0.24L0.24,-0.16L-0.16,0.24Z"]}, "legend": {"legendX": 22, "legendY": 108, "symbolSize": 650, "columnPadding": 4}}}}
 ],
 "resolve": {"scale": {"shape": "independent"}}}
],
"config": {
 "font": "Liberation Serif",
 "view": {"stroke": "#222", "strokeWidth": 1},
 "title": {"font": "Liberation Serif", "fontSize": 14, "fontWeight": "bold", "lineHeight": 17, "color": "black", "anchor": "middle", "frame": "bounds", "offset": 3},
 "axis": {"labelFont": "Liberation Serif", "labelFontSize": 9, "labelColor": "#111", "titleFont": "Liberation Serif", "titleFontSize": 8, "titleFontWeight": "bold", "titleColor": "#111", "domainColor": "#111", "tickColor": "#111", "grid": false, "titlePadding": 3},
 "axisX": {"labelAngle": 0, "ticks": false, "labelPadding": 5, "domain": true},
 "axisY": {"tickSize": 4, "labelPadding": 3, "minExtent": 26, "maxExtent": 26, "format": "d"},
 "legend": {"orient": "none", "direction": "horizontal", "title": null, "symbolSize": 1156, "symbolStrokeWidth": 0, "symbolFillColor": "black", "symbolOpacity": 1, "labelFont": "Liberation Serif", "labelFontSize": 9, "labelColor": "#111", "labelOffset": 2, "columnPadding": 5, "padding": 0}
}
}
